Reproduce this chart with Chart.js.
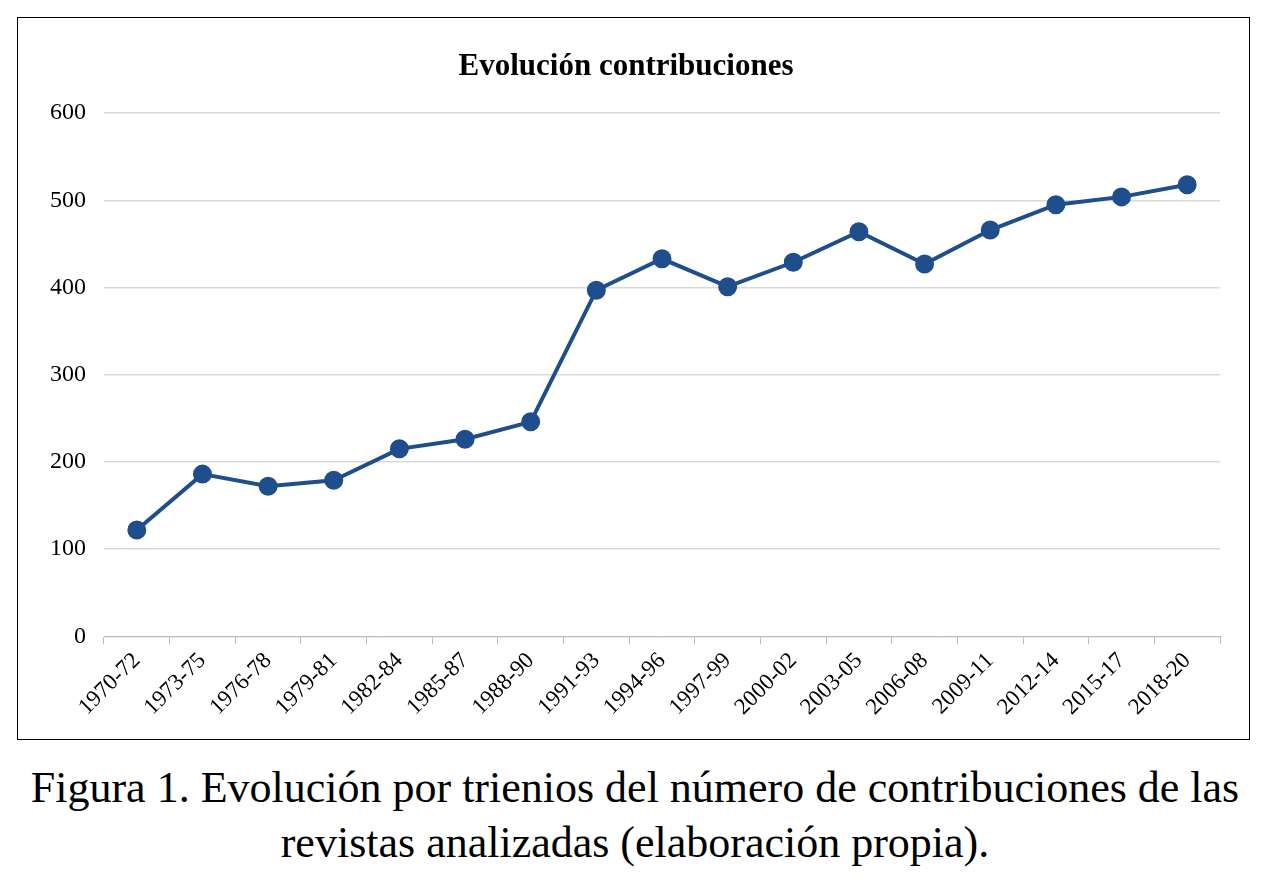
<!DOCTYPE html>
<html><head><meta charset="utf-8">
<script src="https://cdn.jsdelivr.net/npm/chart.js@4"></script>
<style>
body{margin:0;background:#fff;font-family:"Liberation Serif",serif;}
#box{position:absolute;left:17px;top:17px;width:1233px;height:723px;border:1.5px solid #000;box-sizing:border-box;}
#cap{position:absolute;left:0;top:760px;width:1270px;text-align:center;font-size:44px;line-height:55px;color:#000;}
</style></head><body>
<div id="box"><canvas id="c" width="1230" height="720"></canvas></div>
<div id="cap">Figura 1. Evolución por trienios del número de contribuciones de las<br>revistas analizadas (elaboración propia).</div>
<script>
const categories=["1970-72","1973-75","1976-78","1979-81","1982-84","1985-87","1988-90","1991-93","1994-96","1997-99","2000-02","2003-05","2006-08","2009-11","2012-14","2015-17","2018-20"];
const contribuciones=[122,186,172,179,215,226,246,397,433,401,429,464,427,466,495,504,518];
const yTicks=[0,100,200,300,400,500,600];
new Chart(document.getElementById('c'),{
type:'line',
data:{labels:categories,datasets:[{data:contribuciones,borderColor:'#1f4e8c',backgroundColor:'#1f4e8c',borderWidth:4,pointRadius:7.5,pointHoverRadius:7.5,tension:0}]},
options:{responsive:false,animation:false,
layout:{padding:{left:14,right:28,top:8,bottom:14}},
plugins:{legend:{display:false},tooltip:{enabled:false},
title:{display:true,text:'Evolución contribuciones',color:'#000',font:{family:'Liberation Serif',size:31,weight:'bold'},padding:{top:22,bottom:28}}},
scales:{
x:{offset:true,grid:{display:true,drawOnChartArea:false,color:'#bbb',tickLength:8,offset:true},border:{color:'#bbb'},
ticks:{color:'#000',maxRotation:45,minRotation:45,font:{family:'Liberation Serif',size:23}}},
y:{min:0,max:600,afterBuildTicks:a=>{a.ticks=yTicks.map(v=>({value:v}));},
grid:{color:'#d9d9d9',lineWidth:1.5,drawTicks:false},border:{display:false},
ticks:{color:'#000',padding:18,font:{family:'Liberation Serif',size:24}}}}}
});
</script></body></html>
